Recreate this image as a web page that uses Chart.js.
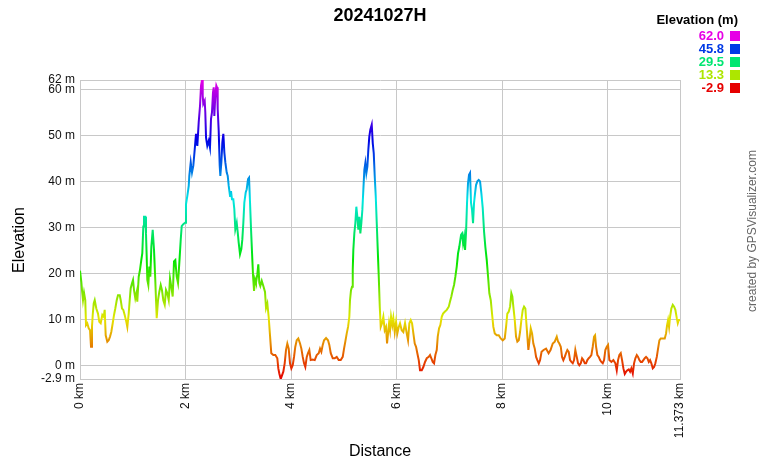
<!DOCTYPE html>
<html>
<head>
<meta charset="utf-8">
<script src="https://cdn.jsdelivr.net/npm/chart.js@4/dist/chart.umd.min.js"></script>
<style>
  body { margin: 0; background: #fff; }
</style>
</head>
<body>
<canvas id="elevChart" width="760" height="460"></canvas>
<script>
// Profile: distance (km) and elevation (m)
const distKm = [
  0.000, 0.025, 0.038, 0.057, 0.076, 0.100, 0.114, 0.138, 0.165, 0.190,
  0.209, 0.227, 0.241, 0.260, 0.279, 0.309, 0.341, 0.366, 0.392, 0.423,
  0.449, 0.468, 0.487, 0.518, 0.544, 0.569, 0.593, 0.620, 0.645, 0.669,
  0.696, 0.720, 0.753, 0.772, 0.796, 0.821, 0.847, 0.878, 0.897, 0.923,
  0.942, 0.961, 0.986, 1.005, 1.024, 1.048, 1.075, 1.086, 1.113, 1.137,
  1.162, 1.181, 1.200, 1.213, 1.238, 1.251, 1.264, 1.276, 1.295, 1.314,
  1.333, 1.352, 1.378, 1.403, 1.427, 1.441, 1.454, 1.479, 1.503, 1.530,
  1.554, 1.579, 1.606, 1.630, 1.655, 1.682, 1.706, 1.731, 1.757, 1.782,
  1.807, 1.833, 1.858, 1.882, 1.909, 1.928, 1.958, 1.991, 2.009, 2.034,
  2.061, 2.072, 2.099, 2.123, 2.148, 2.175, 2.199, 2.224, 2.250, 2.275,
  2.294, 2.313, 2.326, 2.337, 2.364, 2.375, 2.389, 2.413, 2.440, 2.464,
  2.483, 2.502, 2.521, 2.535, 2.546, 2.565, 2.584, 2.597, 2.610, 2.629,
  2.648, 2.660, 2.679, 2.698, 2.717, 2.736, 2.755, 2.781, 2.800, 2.819,
  2.844, 2.862, 2.881, 2.906, 2.925, 2.944, 2.971, 2.990, 3.008, 3.033,
  3.058, 3.077, 3.096, 3.115, 3.141, 3.160, 3.185, 3.204, 3.223, 3.242,
  3.261, 3.280, 3.299, 3.318, 3.336, 3.361, 3.380, 3.399, 3.418, 3.445,
  3.475, 3.507, 3.526, 3.551, 3.577, 3.602, 3.626, 3.664, 3.702, 3.740,
  3.759, 3.778, 3.805, 3.829, 3.854, 3.880, 3.905, 3.930, 3.956, 3.981,
  4.006, 4.032, 4.057, 4.081, 4.108, 4.138, 4.171, 4.196, 4.222, 4.247,
  4.271, 4.298, 4.322, 4.347, 4.373, 4.411, 4.449, 4.487, 4.525, 4.550,
  4.575, 4.601, 4.626, 4.664, 4.701, 4.726, 4.753, 4.791, 4.828, 4.866,
  4.904, 4.942, 4.980, 5.005, 5.029, 5.056, 5.081, 5.105, 5.118, 5.137,
  5.156, 5.170, 5.181, 5.200, 5.219, 5.238, 5.257, 5.276, 5.295, 5.314,
  5.333, 5.352, 5.371, 5.390, 5.409, 5.428, 5.447, 5.465, 5.484, 5.503,
  5.530, 5.549, 5.568, 5.587, 5.606, 5.625, 5.644, 5.663, 5.682, 5.700,
  5.725, 5.750, 5.776, 5.801, 5.820, 5.839, 5.858, 5.877, 5.896, 5.920,
  5.939, 5.966, 5.991, 6.015, 6.042, 6.066, 6.098, 6.129, 6.161, 6.193,
  6.218, 6.243, 6.269, 6.294, 6.319, 6.345, 6.370, 6.394, 6.421, 6.445,
  6.478, 6.508, 6.540, 6.573, 6.610, 6.635, 6.660, 6.686, 6.711, 6.736,
  6.762, 6.781, 6.806, 6.830, 6.857, 6.882, 6.914, 6.952, 6.990, 7.014,
  7.039, 7.065, 7.090, 7.115, 7.141, 7.166, 7.190, 7.204, 7.223, 7.242,
  7.261, 7.280, 7.299, 7.318, 7.336, 7.355, 7.374, 7.393, 7.412, 7.431,
  7.450, 7.469, 7.488, 7.507, 7.532, 7.558, 7.583, 7.608, 7.634, 7.659,
  7.683, 7.710, 7.735, 7.759, 7.786, 7.810, 7.835, 7.862, 7.899, 7.937,
  7.975, 8.013, 8.051, 8.076, 8.100, 8.127, 8.152, 8.176, 8.195, 8.214,
  8.241, 8.265, 8.290, 8.317, 8.341, 8.366, 8.392, 8.417, 8.442, 8.461,
  8.480, 8.499, 8.518, 8.544, 8.569, 8.593, 8.620, 8.645, 8.669, 8.696,
  8.720, 8.749, 8.787, 8.834, 8.882, 8.919, 8.961, 8.999, 9.037, 9.062,
  9.086, 9.113, 9.137, 9.162, 9.189, 9.213, 9.238, 9.264, 9.289, 9.314,
  9.340, 9.365, 9.389, 9.416, 9.441, 9.465, 9.492, 9.517, 9.541, 9.568,
  9.592, 9.617, 9.643, 9.668, 9.693, 9.719, 9.744, 9.763, 9.782, 9.807,
  9.833, 9.858, 9.882, 9.909, 9.934, 9.958, 9.985, 10.009, 10.034, 10.072,
  10.110, 10.148, 10.174, 10.199, 10.224, 10.250, 10.275, 10.300, 10.326, 10.351,
  10.375, 10.402, 10.427, 10.451, 10.478, 10.502, 10.527, 10.554, 10.578, 10.603,
  10.629, 10.654, 10.679, 10.705, 10.730, 10.755, 10.781, 10.806, 10.830, 10.857,
  10.882, 10.906, 10.933, 10.957, 10.982, 11.008, 11.046, 11.084, 11.109, 11.128,
  11.147, 11.166, 11.185, 11.209, 11.236, 11.261, 11.285, 11.312, 11.331, 11.350,
  11.373
];
const elevM = [
  20.6, 18.2, 16.4, 14.2, 15.8, 14.2, 8.8, 9.2, 8.1, 7.7,
  4.1, 8.4, 11.0, 13.5, 14.2, 12.4, 11.3, 9.5, 9.2, 11.0,
  10.6, 12.1, 6.6, 5.2, 5.5, 6.3, 7.3, 9.2, 11.0, 12.4,
  14.2, 15.3, 15.3, 14.2, 12.4, 12.1, 11.0, 9.5, 8.4, 11.3,
  14.2, 16.8, 17.9, 18.6, 16.4, 14.6, 16.0, 13.9, 19.3, 20.8,
  22.9, 24.4, 30.2, 32.3, 32.3, 28.7, 23.7, 18.6, 17.5, 21.5,
  19.3, 25.8, 29.5, 25.1, 18.6, 14.2, 10.3, 14.2, 16.0, 17.5,
  16.4, 14.2, 13.2, 16.4, 15.7, 14.2, 18.9, 17.1, 15.0, 22.6,
  22.9, 19.3, 17.9, 22.2, 27.3, 30.3, 30.7, 31.0, 35.0, 36.8,
  39.0, 41.2, 44.1, 41.9, 43.4, 47.0, 50.3, 47.7, 52.8, 56.4,
  60.8, 62.0, 58.6, 56.8, 57.5, 55.0, 49.5, 47.7, 48.8, 47.3,
  53.5, 55.0, 59.3, 60.4, 54.2, 58.6, 60.8, 60.4, 55.7, 51.0,
  43.4, 41.2, 44.1, 48.4, 50.3, 46.3, 44.1, 41.9, 41.2, 39.0,
  36.8, 37.9, 36.1, 36.1, 34.0, 29.6, 31.0, 28.9, 26.7, 24.2,
  25.3, 27.4, 31.0, 35.4, 37.6, 38.3, 40.5, 40.8, 35.4, 29.6,
  24.5, 19.5, 16.2, 18.7, 18.0, 19.8, 22.0, 18.0, 17.3, 18.4,
  17.3, 16.0, 12.5, 13.5, 10.5, 6.5, 2.7, 2.3, 2.3, 1.6,
  -0.6, -1.7, -2.9, -2.1, -1.3, 0.5, 3.4, 4.8, 3.7, 0.5,
  -0.6, 0.1, 1.9, 4.1, 5.5, 5.9, 4.8, 3.7, 1.9, 0.5,
  -0.3, 1.9, 2.7, 3.4, 1.2, 1.3, 1.2, 2.3, 2.7, 3.7,
  3.0, 4.5, 5.5, 6.0, 5.5, 4.5, 2.7, 1.6, 1.6, 1.9,
  1.2, 1.2, 1.9, 3.7, 5.2, 7.0, 8.4, 10.6, 14.2, 16.4,
  17.1, 20.8, 25.1, 28.7, 30.9, 34.5, 32.3, 29.5, 32.3, 28.7,
  30.9, 33.8, 38.2, 42.5, 44.0, 41.8, 43.2, 46.8, 49.7, 51.2,
  52.3, 48.3, 46.1, 41.0, 36.7, 30.9, 25.1, 19.3, 12.8, 8.4,
  9.2, 10.6, 7.7, 8.4, 4.8, 7.0, 9.2, 7.7, 10.6, 8.8,
  10.3, 7.3, 9.5, 7.0, 8.4, 9.2, 7.7, 7.3, 9.2, 7.0,
  5.5, 9.2, 9.9, 9.2, 7.0, 4.8, 4.1, 2.7, 1.2, -1.0,
  -1.0, -0.3, 0.8, 1.6, 1.9, 2.3, 1.6, 0.8, 0.5, 2.3,
  3.4, 6.3, 8.1, 8.8, 10.6, 11.3, 11.7, 12.1, 12.8, 13.9,
  15.0, 16.4, 17.5, 19.3, 21.5, 24.4, 25.8, 26.9, 28.4, 28.7,
  26.6, 28.0, 25.1, 29.1, 35.3, 39.6, 41.4, 41.8, 35.3, 33.8,
  30.9, 35.3, 37.4, 39.2, 40.0, 40.3, 40.0, 37.4, 34.2, 29.1,
  25.8, 22.9, 19.3, 15.7, 14.2, 11.3, 8.4, 7.0, 6.6, 6.6,
  5.9, 5.5, 5.9, 8.4, 11.3, 11.7, 12.8, 15.7, 15.0, 12.8,
  9.9, 6.3, 5.2, 5.5, 7.3, 9.9, 12.1, 12.8, 12.4, 9.2,
  6.3, 3.4, 5.2, 8.1, 7.0, 4.8, 3.7, 1.9, 1.2, 0.5,
  1.2, 3.0, 3.4, 3.7, 2.7, 3.4, 4.8, 5.2, 6.3, 5.2,
  4.8, 4.1, 1.9, 1.2, 1.9, 2.7, 3.4, 3.0, 1.2, 0.8,
  0.5, 1.2, 3.4, 1.9, 0.5, 0.1, 0.5, 1.6, 1.2, 0.5,
  0.5, 1.2, 1.6, 1.9, 2.3, 4.1, 6.3, 6.6, 4.1, 2.3,
  1.9, 1.2, 0.8, 0.5, 1.2, 3.4, 4.1, 4.5, 1.2, 0.8,
  1.2, 0.5, -1.0, 1.2, 2.3, 2.7, 1.2, -0.6, -1.8, -1.3,
  -1.0, -0.8, -1.3, -0.6, -1.7, 0.5, 1.6, 2.3, 1.9, 1.2,
  0.8, 0.8, 1.2, 1.6, 1.9, 1.6, 0.8, 1.2, 0.5, -0.6,
  -0.3, 0.5, 1.9, 3.7, 5.5, 5.9, 5.9, 5.9, 7.0, 8.8,
  9.9, 8.4, 10.6, 12.4, 13.2, 12.8, 12.1, 10.3, 9.2, 9.9,
  9.9
];

const yTicks = [-2.9, 0, 10, 20, 30, 40, 50, 60, 62];
const xTicks = [0, 2, 4, 6, 8, 10, 11.373];
const legendValues = [62.0, 45.8, 29.5, 13.3, -2.9];

const elevMin = -2.9;
const elevMax = 62.0;
const fontFamily = '"Liberation Sans", Arial, sans-serif';
const gridColor = '#c8c8c8';

// red at the lowest point, magenta at the highest
function elevColor(v) {
    const h = 300 * (v - elevMin) / (elevMax - elevMin);
    return `hsl(${h}, 100%, 45%)`;
}

function lineGradient(context) {
    const chart = context.chart;
    const area = chart.chartArea;
    if (!area) {
        return null;
    }
    const yScale = chart.scales.y;
    const yLow = yScale.getPixelForValue(elevMin);
    const yHigh = yScale.getPixelForValue(elevMax);
    const g = chart.ctx.createLinearGradient(0, yLow, 0, yHigh);
    for (let i = 0; i <= 20; i++) {
        const v = elevMin + (elevMax - elevMin) * i / 20;
        g.addColorStop(i / 20, elevColor(v));
    }
    return g;
}

const textPlugin = {
    id: 'texts',
    afterDraw(chart) {
        const c = chart.ctx;
        c.save();
        c.fillStyle = '#000';
        c.textBaseline = 'middle';

        // title
        c.font = 'bold 18px ' + fontFamily;
        c.textAlign = 'center';
        c.fillText('20241027H', 380, 16);

        // axis titles
        c.font = '16px ' + fontFamily;
        c.fillText('Distance', 380, 452);
        c.save();
        c.translate(20, 240);
        c.rotate(-Math.PI / 2);
        c.fillText('Elevation', 0, 0);
        c.restore();

        // colour legend
        c.textAlign = 'right';
        c.font = 'bold 13px ' + fontFamily;
        c.fillText('Elevation (m)', 738, 20);
        legendValues.forEach((v, i) => {
            const y = 36 + i * 13;
            c.fillStyle = elevColor(v);
            c.fillText(v.toFixed(1), 724, y);
            c.fillRect(730, y - 5, 10, 10);
        });

        // credit
        c.fillStyle = '#666';
        c.font = '12px ' + fontFamily;
        c.textAlign = 'center';
        c.save();
        c.translate(753, 231);
        c.rotate(-Math.PI / 2);
        c.fillText('created by GPSVisualizer.com', 0, 0);
        c.restore();

        c.restore();
    }
};

const points = distKm.map((d, i) => ({ x: d, y: elevM[i] }));

new Chart(document.getElementById('elevChart'), {
    type: 'line',
    data: {
        datasets: [{
            data: points,
            borderColor: lineGradient,
            borderWidth: 2,
            pointRadius: 0,
            tension: 0,
            fill: false
        }]
    },
    options: {
        responsive: false,
        animation: false,
        layout: {
            padding: { top: 80, right: 80, left: 0, bottom: 0 }
        },
        plugins: {
            legend: { display: false },
            title: { display: false },
            tooltip: { enabled: false }
        },
        scales: {
            x: {
                type: 'linear',
                min: 0,
                max: 11.373,
                afterBuildTicks: (scale) => {
                    scale.ticks = xTicks.map(v => ({ value: v }));
                },
                afterFit: (scale) => {
                    scale.height = 81;
                },
                grid: { color: gridColor, drawTicks: false },
                border: { color: gridColor },
                ticks: {
                    autoSkip: false,
                    minRotation: 90,
                    maxRotation: 90,
                    padding: 4,
                    color: '#111',
                    font: { family: fontFamily, size: 12 },
                    callback: (v) => v + ' km'
                }
            },
            y: {
                type: 'linear',
                min: elevMin,
                max: elevMax,
                afterBuildTicks: (scale) => {
                    scale.ticks = yTicks.map(v => ({ value: v }));
                },
                afterFit: (scale) => {
                    scale.width = 80;
                },
                grid: { color: gridColor, drawTicks: false },
                border: { color: gridColor },
                ticks: {
                    autoSkip: false,
                    padding: 5,
                    color: '#111',
                    font: { family: fontFamily, size: 12 },
                    callback: (v) => v + ' m'
                }
            }
        }
    },
    plugins: [textPlugin]
});
</script>
</body>
</html>
